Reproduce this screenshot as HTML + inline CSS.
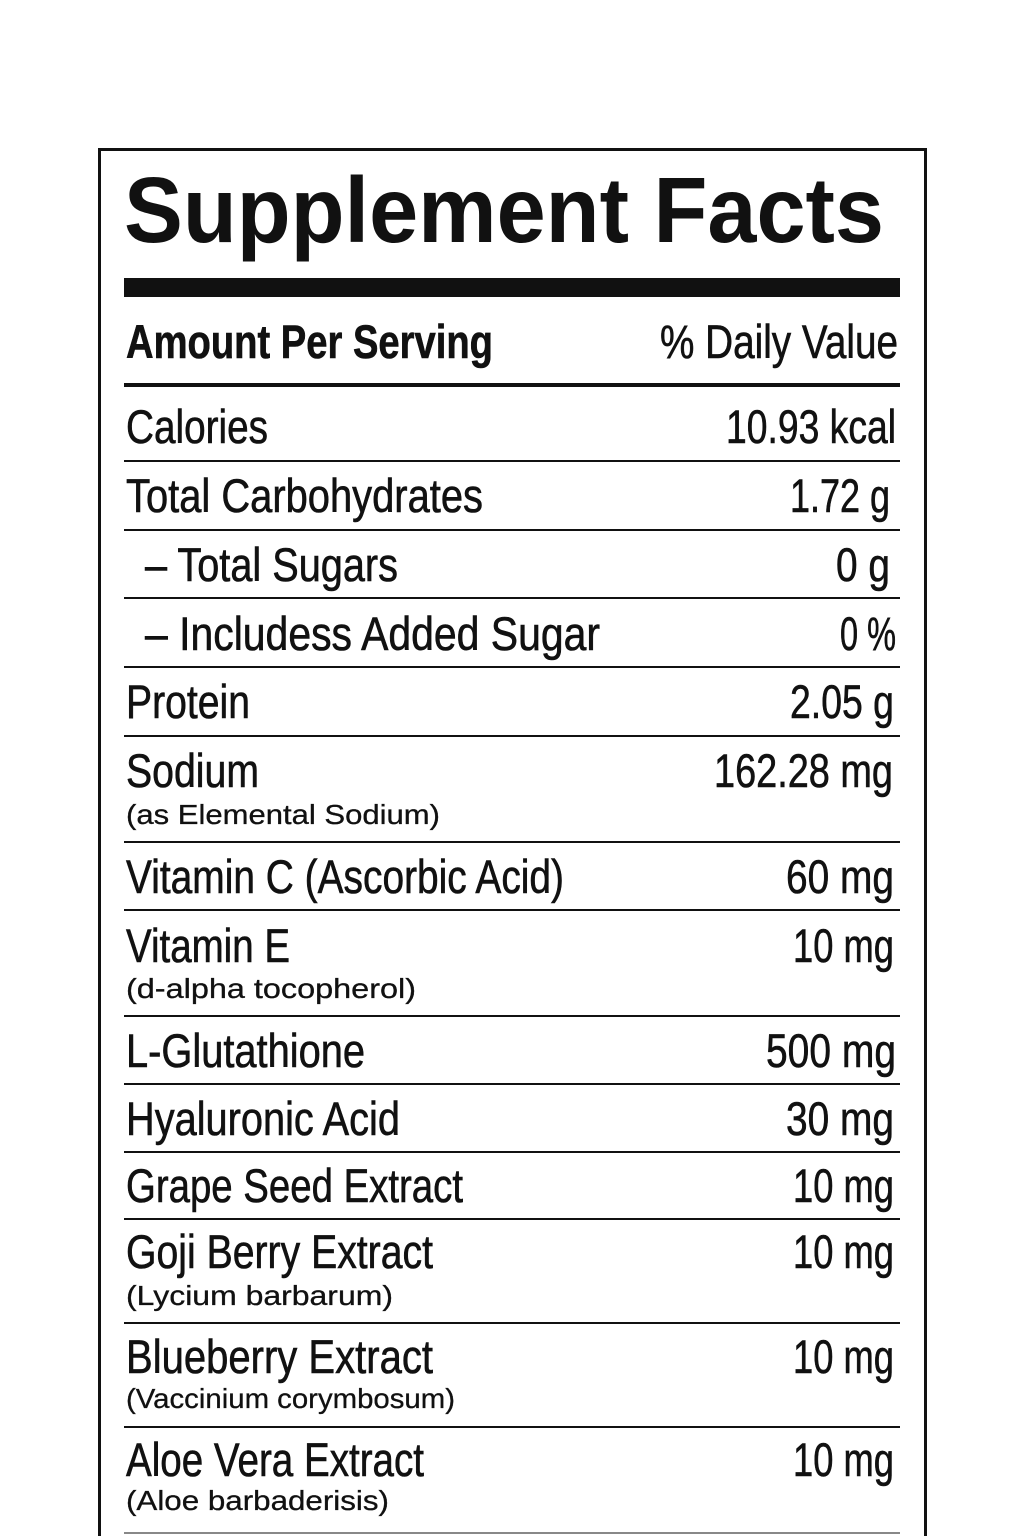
<!DOCTYPE html>
<html><head><meta charset="utf-8"><style>
html,body{margin:0;padding:0;background:#fff;}
svg{display:block;}
text{font-family:"Liberation Sans",sans-serif;fill:#111;}
.m{font-size:47px;stroke:#111;stroke-width:0.6px;}
.s{font-size:28px;stroke:#111;stroke-width:0.3px;}
</style></head><body>
<svg width="1024" height="1536" viewBox="0 0 1024 1536" xmlns="http://www.w3.org/2000/svg">
<rect x="0" y="0" width="1024" height="1536" fill="#fff"/>
<path d="M99.5 1536 V149.5 H925.5 V1536" fill="none" stroke="#111" stroke-width="3"/>
<text x="124" y="242" font-size="93" font-weight="bold" textLength="760" lengthAdjust="spacingAndGlyphs">Supplement Facts</text>
<rect x="124" y="278" width="776" height="19" fill="#111"/>
<text x="126" y="358" class="m" font-weight="bold" textLength="367" lengthAdjust="spacingAndGlyphs">Amount Per Serving</text>
<text x="660" y="358" class="m" textLength="238" lengthAdjust="spacingAndGlyphs">% Daily Value</text>
<rect x="124" y="383" width="776" height="4" fill="#111"/>
<g fill="#111">
<rect x="124" y="460" width="776" height="2"/>
<rect x="124" y="529" width="776" height="2"/>
<rect x="124" y="597" width="776" height="2"/>
<rect x="124" y="666" width="776" height="2"/>
<rect x="124" y="735" width="776" height="2"/>
<rect x="124" y="841" width="776" height="2"/>
<rect x="124" y="909" width="776" height="2"/>
<rect x="124" y="1015" width="776" height="2"/>
<rect x="124" y="1083" width="776" height="2"/>
<rect x="124" y="1151" width="776" height="2"/>
<rect x="124" y="1218" width="776" height="2"/>
<rect x="124" y="1322" width="776" height="2"/>
<rect x="124" y="1426" width="776" height="2"/>
<rect x="124" y="1532" width="776" height="2" fill="#888"/>
</g>
<g>
<text class="m" x="126" y="443" textLength="142" lengthAdjust="spacingAndGlyphs">Calories</text>
<text class="m" x="726" y="443" textLength="170" lengthAdjust="spacingAndGlyphs">10.93 kcal</text>
<text class="m" x="126" y="512" textLength="357" lengthAdjust="spacingAndGlyphs">Total Carbohydrates</text>
<text class="m" x="790" y="512" textLength="100" lengthAdjust="spacingAndGlyphs">1.72 g</text>
<text class="m" x="145" y="581" textLength="253" lengthAdjust="spacingAndGlyphs">– Total Sugars</text>
<text class="m" x="836" y="581" textLength="54" lengthAdjust="spacingAndGlyphs">0 g</text>
<text class="m" x="145" y="650" textLength="455" lengthAdjust="spacingAndGlyphs">– Includess Added Sugar</text>
<text class="m" x="840" y="650" textLength="56" lengthAdjust="spacingAndGlyphs">0 %</text>
<text class="m" x="126" y="718" textLength="124" lengthAdjust="spacingAndGlyphs">Protein</text>
<text class="m" x="790" y="718" textLength="104" lengthAdjust="spacingAndGlyphs">2.05 g</text>
<text class="m" x="126" y="787" textLength="133" lengthAdjust="spacingAndGlyphs">Sodium</text>
<text class="m" x="714" y="787" textLength="179" lengthAdjust="spacingAndGlyphs">162.28 mg</text>
<text class="s" x="126" y="824" textLength="314" lengthAdjust="spacingAndGlyphs">(as Elemental Sodium)</text>
<text class="m" x="126" y="893" textLength="438" lengthAdjust="spacingAndGlyphs">Vitamin C (Ascorbic Acid)</text>
<text class="m" x="786" y="893" textLength="108" lengthAdjust="spacingAndGlyphs">60 mg</text>
<text class="m" x="126" y="962" textLength="164" lengthAdjust="spacingAndGlyphs">Vitamin E</text>
<text class="m" x="793" y="962" textLength="101" lengthAdjust="spacingAndGlyphs">10 mg</text>
<text class="s" x="126" y="998" textLength="290" lengthAdjust="spacingAndGlyphs">(d-alpha tocopherol)</text>
<text class="m" x="126" y="1067" textLength="239" lengthAdjust="spacingAndGlyphs">L-Glutathione</text>
<text class="m" x="766" y="1067" textLength="130" lengthAdjust="spacingAndGlyphs">500 mg</text>
<text class="m" x="126" y="1135" textLength="274" lengthAdjust="spacingAndGlyphs">Hyaluronic Acid</text>
<text class="m" x="786" y="1135" textLength="108" lengthAdjust="spacingAndGlyphs">30 mg</text>
<text class="m" x="126" y="1202" textLength="337" lengthAdjust="spacingAndGlyphs">Grape Seed Extract</text>
<text class="m" x="793" y="1202" textLength="101" lengthAdjust="spacingAndGlyphs">10 mg</text>
<text class="m" x="126" y="1268" textLength="307" lengthAdjust="spacingAndGlyphs">Goji Berry Extract</text>
<text class="m" x="793" y="1268" textLength="101" lengthAdjust="spacingAndGlyphs">10 mg</text>
<text class="s" x="126" y="1305" textLength="267" lengthAdjust="spacingAndGlyphs">(Lycium barbarum)</text>
<text class="m" x="126" y="1373" textLength="307" lengthAdjust="spacingAndGlyphs">Blueberry Extract</text>
<text class="m" x="793" y="1373" textLength="101" lengthAdjust="spacingAndGlyphs">10 mg</text>
<text class="s" x="126" y="1408" textLength="329" lengthAdjust="spacingAndGlyphs">(Vaccinium corymbosum)</text>
<text class="m" x="126" y="1476" textLength="298" lengthAdjust="spacingAndGlyphs">Aloe Vera Extract</text>
<text class="m" x="793" y="1476" textLength="101" lengthAdjust="spacingAndGlyphs">10 mg</text>
<text class="s" x="126" y="1510" textLength="263" lengthAdjust="spacingAndGlyphs">(Aloe barbaderisis)</text>
</g>
</svg>
</body></html>
